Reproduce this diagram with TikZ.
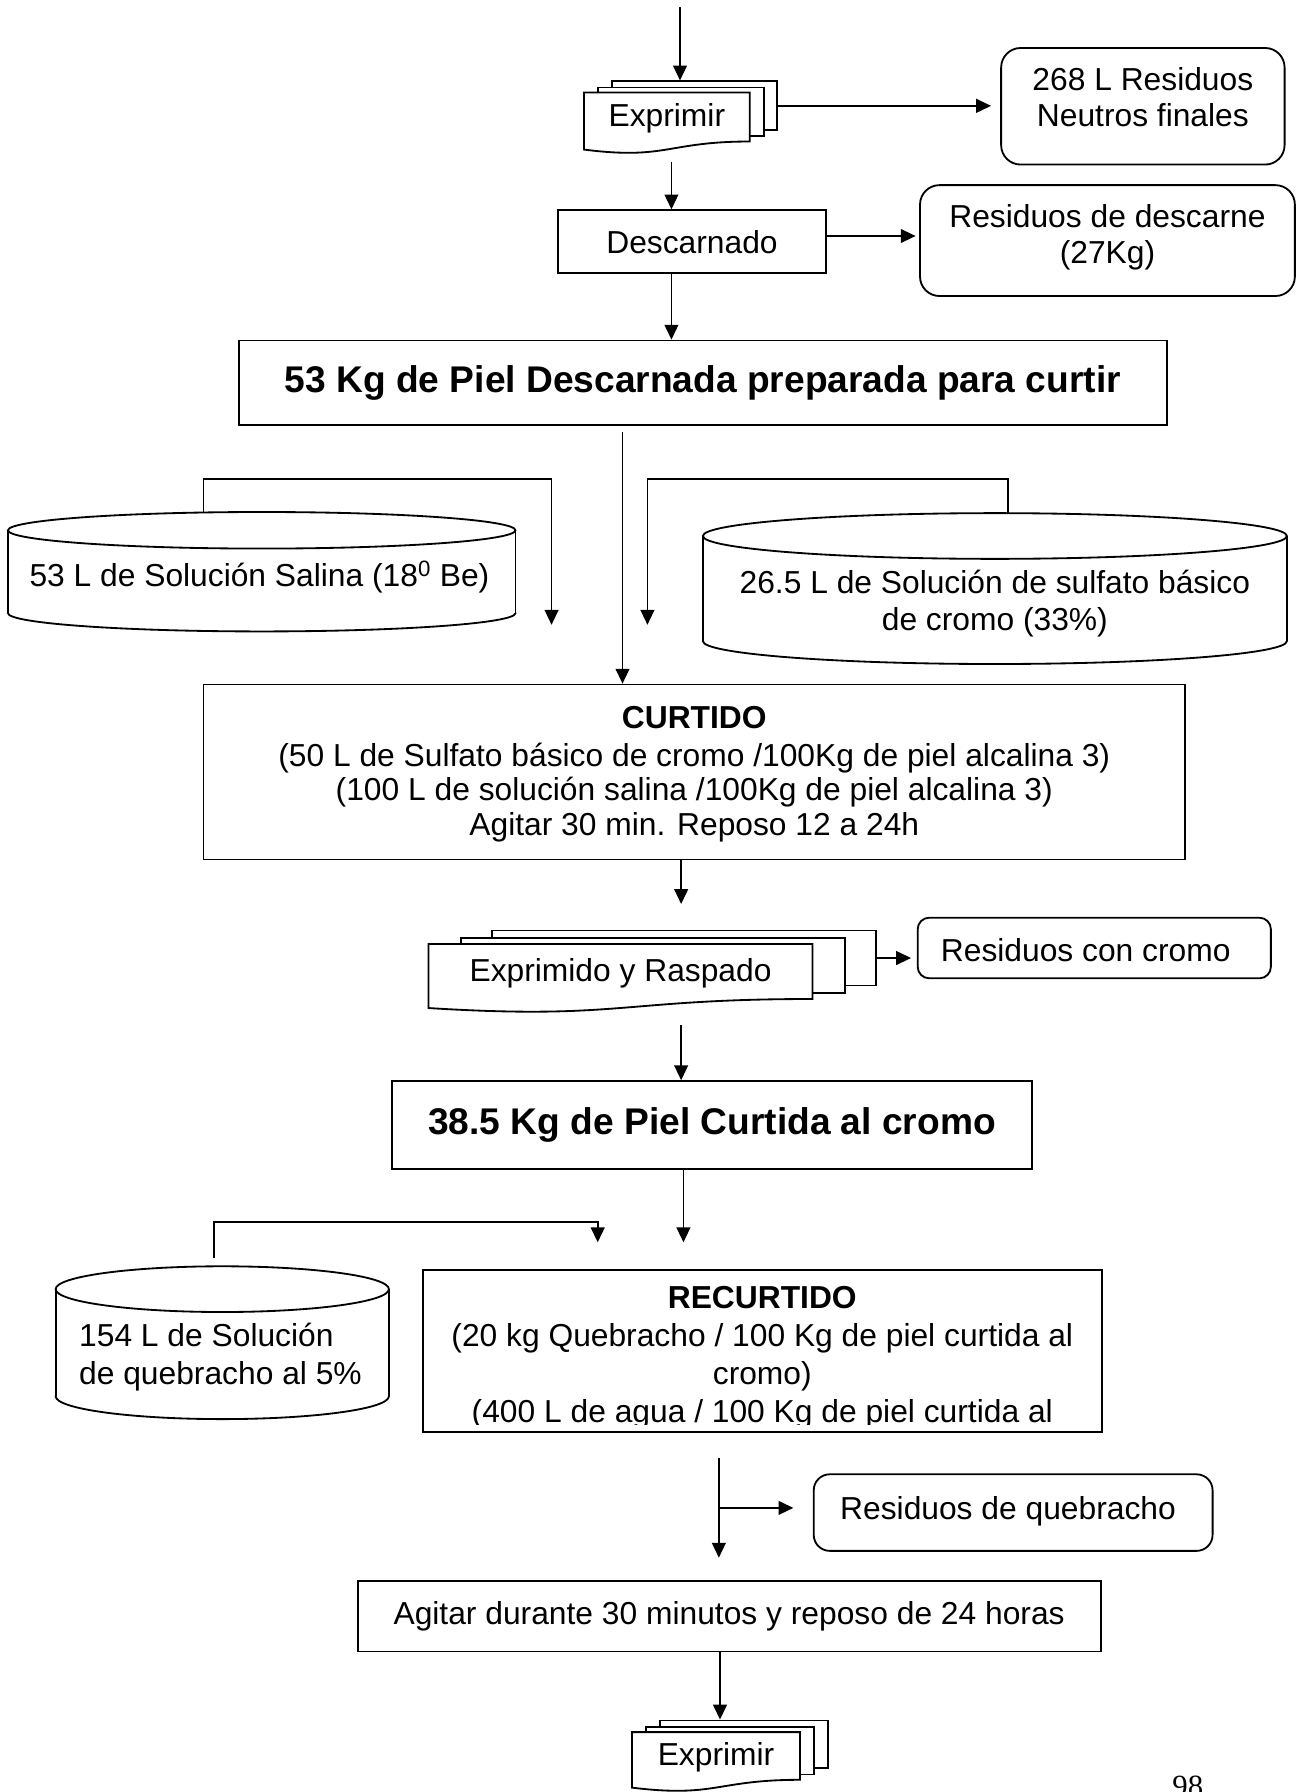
\documentclass[tikz,border=0pt]{standalone}
\usepackage{fontspec}
\setmainfont{Liberation Sans}
\newfontfamily\serifnum{Liberation Serif}
\usetikzlibrary{arrows.meta}

\tikzset{
  txt/.style={font=\fontsize{27.8}{32}\selectfont, inner sep=0pt, align=center},
  title/.style={font=\fontsize{32.5}{37}\selectfont\bfseries, inner sep=0pt},
  procbox/.style={draw, fill=white, inner sep=0pt},
  wastebox/.style={draw, fill=white, inner sep=0pt, rounded corners=17pt},
  page/.style={draw, fill=white, inner sep=0pt},
  arr/.style={-{Triangle[length=13pt,width=12pt]}},
}

% stack of three pages: name, left x, top y, width, height, x step, y step, text
\newcommand\docstack[8]{%
  \pgfmathsetmacro\dsh{0.802*#5}%
  \node[page, minimum width=#4pt, minimum height=\dsh pt, anchor=north west] (#1-back) at ({#2+2*#6},{#3-2*#7}) {};
  \node[page, minimum width=#4pt, minimum height=\dsh pt, anchor=north west] (#1-mid) at ({#2+#6},{#3-#7}) {};
  \draw[fill=white] (#2,#3) -- ({#2+#4},#3) -- ({#2+#4},{#3+\dsh})
     .. controls ({#2+#4/2},{#3+\dsh}) and ({#2+#4/2},{#3+1.107*#5}) .. (#2,{#3+0.934*#5}) -- cycle;
  \node[txt] (#1) at ({#2+#4/2},{#3+0.42*#5}) {#8};
}

% storage tank: name, centre x, top centre y, bottom centre y, x radius, y radius
\newcommand\tank[6]{%
  \draw[fill=white] (#2,#4) ellipse [x radius=#5, y radius=#6];
  \fill[white] ({#2-#5},#3) rectangle ({#2+#5},#4);
  \draw ({#2-#5},#3) -- ({#2-#5},#4) ({#2+#5},#3) -- ({#2+#5},#4);
  \draw[fill=white] (#2,#3) ellipse [x radius=#5, y radius=#6];
  \coordinate (#1-top) at (#2,{#3-#6});
}

\begin{document}
\begin{tikzpicture}[x=1pt,y=-1pt,line width=1.6pt]
\useasboundingbox (0,0) rectangle (1138,1568);
\clip (0,0) rectangle (1138,1568);

% ---------- pressing and fleshing ----------
\coordinate (in) at (595,6);
\docstack{exp1}{511}{81}{145}{53.4}{11.7}{5.3}{Exprimir}
\draw[arr] (in) -- (in |- exp1-back.north);

\node[wastebox, minimum width=248pt, minimum height=102pt] (neut) at (1000,93) {};
\node[txt] (neut-t) at (1000,85) {268 L Residuos\\Neutros finales};
\draw[arr, shorten >=8pt] (exp1-back.east) -- (exp1-back.east -| neut.west);

\coordinate (d1) at (587.5,141.4);
\node[procbox, txt, minimum width=235pt, minimum height=55pt] (desc) at (605.5,211.5) {Descarnado};
\draw[arr] (d1) -- (d1 |- desc.north);

\node[wastebox, minimum width=328pt, minimum height=97pt] (rdesc) at (969,210.5) {};
\node[txt] (rdesc-t) at (969,207.5) {Residuos de descarne\\(27Kg)};
\draw[arr, shorten >=3pt] ([yshift=5pt]desc.east) -- ([yshift=5pt]desc.east -| rdesc.west);

\node[procbox, title, minimum width=812pt, minimum height=74pt] (piel1) at (615,335) {53 Kg de Piel Descarnada preparada para curtir};
\draw[arr] (desc.south -| d1) -- (d1 |- piel1.north);

% ---------- tanning ----------
\tank{salina}{229}{464}{536.5}{222}{16}
\node[txt] (salina-t) at (227,505) {53 L de Solución Salina (18\textsuperscript{0} Be)};
\coordinate (s-a) at (178,419);
\coordinate (s-b) at (482.6,546.7);
\draw[arr] (s-a |- salina-top) -- (s-a) -| (s-b);

\tank{cromo}{870.5}{469}{561}{255.5}{20}
\node[txt] (cromo-t) at (870.5,528) {26.5 L de Solución de sulfato básico\\de cromo (33\%)};
\coordinate (k-a) at (881.8,419);
\coordinate (k-b) at (566.5,546.7);
\draw[arr] (k-a |- cromo-top) -- (k-a) -| (k-b);

\coordinate (d2) at (544.7,377.6);
\node[procbox, minimum width=859pt, minimum height=153pt] (curtido) at (607.5,675.5) {};
\node[txt, font=\fontsize{27.8}{30}\selectfont] (curtido-t) at (607.5,677.5) {\textbf{CURTIDO}\\[3pt](50 L de Sulfato básico de cromo /100Kg de piel alcalina 3)\\(100 L de solución salina /100Kg de piel alcalina 3)\\Agitar 30 min. Reposo 12 a 24h};
\draw[arr] (d2) -- (d2 |- curtido.north);

\docstack{exp2}{375}{826}{336}{60}{27.35}{6.3}{Exprimido y Raspado}
\coordinate (d3) at (596,791);
\draw[arr] (curtido.south -| d3) -- (d3);

\node[wastebox, rounded corners=10pt, minimum width=309pt, minimum height=53pt] (rcromo) at (957.5,829.5) {};
\node[txt] (rcromo-t) at (950,831) {Residuos con cromo};
\draw[arr, shorten >=5pt] (exp2-back.east) -- (exp2-back.east -| rcromo.west);

\coordinate (d4) at (596,896.6);
\node[procbox, title, minimum width=560pt, minimum height=77pt] (piel2) at (623,984.5) {38.5 Kg de Piel Curtida al cromo};
\draw[arr] (d4) -- (d4 |- piel2.north);

% ---------- retanning ----------
\coordinate (d5) at (598,1087);
\draw[arr] (piel2.south -| d5) -- (d5);

\tank{quebr}{194.5}{1128}{1221.7}{145.8}{20}
\node[txt, font=\fontsize{27.8}{33}\selectfont, align=left, anchor=west] (quebr-t) at (68.5,1187.5) {154 L de Solución\\de quebracho al 5\%};
\coordinate (q-a) at (187.5,1069);
\coordinate (q-b) at (523,1087);
\draw[arr, shorten <=7pt] (q-a |- quebr-top) -- (q-a) -| (q-b);

\node[procbox, minimum width=594pt, minimum height=142pt] (recurtido) at (667,1182) {};
\begin{scope}
  \clip (371,1112) rectangle (963,1246);
  \node[txt, font=\fontsize{27.8}{33}\selectfont] (recurtido-t) at (667,1188) {\textbf{RECURTIDO}\\(20 kg Quebracho / 100 Kg de piel curtida al\\cromo)\\(400 L de agua / 100 Kg de piel curtida al};
\end{scope}

\coordinate (d6) at (629,1275.7);
\coordinate (d7) at (629,1363);
\draw[arr] (d6) -- (d7);

\node[wastebox, rounded corners=14pt, minimum width=349pt, minimum height=67pt] (rquebr) at (886.5,1323.5) {};
\node[txt] (rquebr-t) at (882,1322) {Residuos de quebracho};
\coordinate (d8) at (629,1319.4);
\draw[arr, shorten >=17pt] (d8) -- (d8 -| rquebr.west);

\node[procbox, txt, minimum width=650pt, minimum height=62pt] (agitar) at (638,1414) {Agitar durante 30 minutos y reposo de 24 horas};

\docstack{exp3}{553}{1515.6}{147}{52}{11.7}{5.5}{Exprimir}
\coordinate (d9) at (630,1444);
\draw[arr] (agitar.south -| d9) -- (d9 |- exp3-back.north);

% page number
\node[font=\serifnum\fontsize{27}{30}\selectfont, anchor=base west, inner sep=0pt] (pnum) at (1025,1572) {98};
\end{tikzpicture}
\end{document}
